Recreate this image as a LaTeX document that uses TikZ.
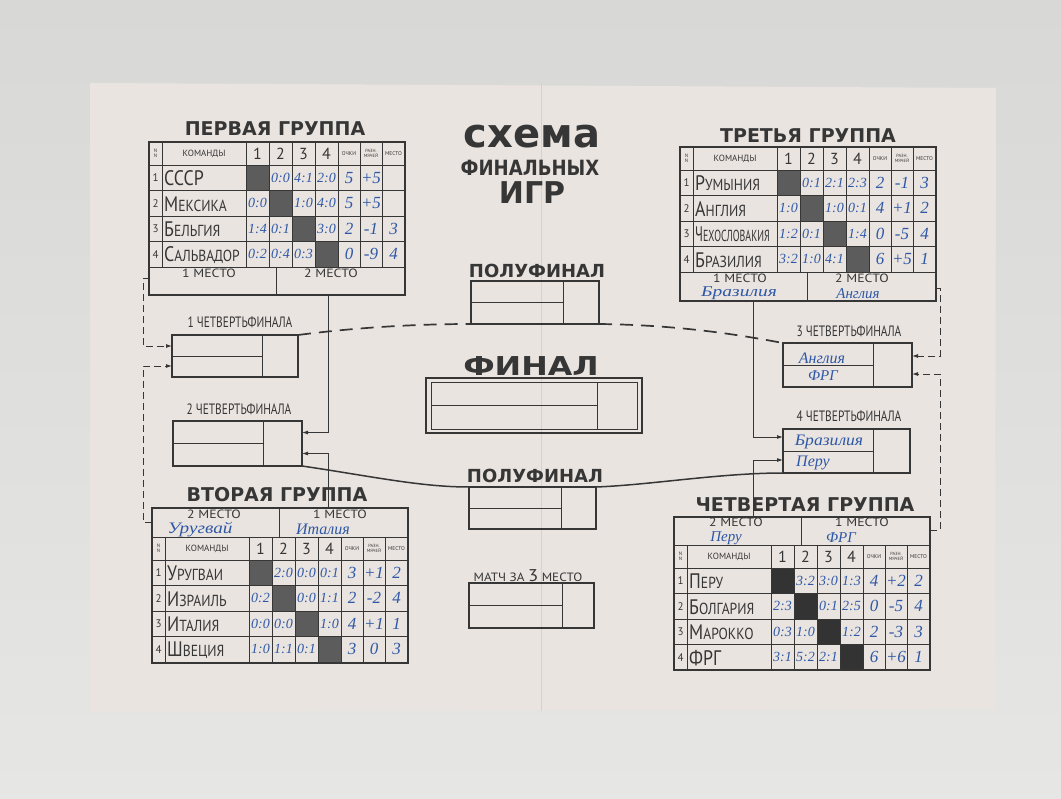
\documentclass[tikz,border=0pt]{standalone}
\usepackage{fontspec}
\setmainfont{PT Sans}
\newfontfamily\hdf{DejaVu Sans}
\newfontfamily\hwf{Liberation Serif}
\usetikzlibrary{arrows.meta,calc}
\definecolor{paper}{HTML}{EAE4E0}
\definecolor{bgtop}{HTML}{D8D9D7}
\definecolor{bgbot}{HTML}{E6E6E4}
\definecolor{ink}{HTML}{363636}
\definecolor{pen}{HTML}{2E58A6}
\definecolor{shA}{HTML}{5C5C5C}
\definecolor{shB}{HTML}{333333}
\newcommand\fs[1]{\fontsize{#1}{#1}\selectfont}
\newcommand\hwfs[1]{\hwf\itshape\fs{#1}}
\newcommand\tn[3][0.85]{\scalebox{#1}[1]{{\fs{21}#2}{\fs{16}#3}}}
\newcommand\tnA[2][0.85]{\scalebox{#1}[1]{\fs{21}#2}}
\newcommand\mesto[1]{\scalebox{1.15}[1]{\fs{12}#1 МЕСТО}}
\tikzset{
  hdr/.style={text=ink, inner sep=0pt},
  hw/.style={text=pen, inner sep=0pt},
  gridl/.style={draw=ink, line width=0.9pt},
  tbl/.style={draw=ink, line width=1.8pt, inner sep=0pt, outer sep=0pt, anchor=north west},
  mbox/.style={draw=ink, line width=1.7pt, inner sep=0pt, outer sep=0pt, anchor=north west},
  divl/.style={draw=ink, line width=0.9pt},
  conn/.style={draw=ink, line width=0.9pt, -{Latex[length=6pt,width=4pt]}},
  dconn/.style={conn, dash pattern=on 7pt off 4pt},
  bigdash/.style={draw=ink, line width=1.7pt, dash pattern=on 13pt off 8pt},
  bigline/.style={draw=ink, line width=1.5pt},
}
% grid of a group table, local coordinates (header top-left = origin)
\newcommand\tgrid[1]{%
  \fill[#1] (97,23) rectangle (120,48.5);
  \fill[#1] (120,48.5) rectangle (143,74);
  \fill[#1] (143,74) rectangle (166,99.5);
  \fill[#1] (166,99.5) rectangle (189,125);
  \foreach \yy in {0,23,48.5,74,99.5,125} \draw[gridl] (0,\yy) -- (256,\yy);
  \foreach \xx in {13,97,120,143,166,189,211,233} \draw[gridl] (\xx,0) -- (\xx,125);
  \node[hdr,font=\fs{5},align=center] (hn) at (6.5,11.5) {N\\N};
  \node[hdr,font=\fs{9}] (hk) at (55,11.5) {КОМАНДЫ};
  \foreach \cc/\xx in {1/108.5,2/131.5,3/154.5,4/177.5}
    \node[hdr,font=\fs{16}] (h\cc) at (\xx,11.5) {\cc};
  \node[hdr,font=\fs{5.5}] (ho) at (200,11.5) {ОЧКИ};
  \node[hdr,font=\fs{4.5},align=center] (hr) at (222,11.5) {РАЗН.\\МЯЧЕЙ};
  \node[hdr,font=\fs{5.5}] (hm) at (244.5,11.5) {МЕСТО};
}
\newcommand\trow[9]{%
  \pgfmathsetmacro\ry{23+25.5*(#1-0.5)}
  \node[hdr,font=\fs{11}] (r#1n) at (6.5,\ry) {#1};
  \node[hdr,anchor=west] (r#1t) at (15,\ry+0.5) {#2};
  \node[hw,font=\hwfs{14}] (r#1a) at (108.5,\ry) {#3};
  \node[hw,font=\hwfs{14}] (r#1b) at (131.5,\ry) {#4};
  \node[hw,font=\hwfs{14}] (r#1c) at (154.5,\ry) {#5};
  \node[hw,font=\hwfs{14}] (r#1d) at (177.5,\ry) {#6};
  \node[hw,font=\hwfs{17}] (r#1p) at (200,\ry) {#7};
  \node[hw,font=\hwfs{17}] (r#1r) at (222,\ry) {#8};
  \node[hw,font=\hwfs{17}] (r#1m) at (244.5,\ry) {#9};
}
\newcommand\placebot{%
  \draw[gridl] (127,125) -- (127,153);
  \node[hdr] (p1) at (60,131.5) {\mesto{1}};
  \node[hdr] (p2) at (182,131.5) {\mesto{2}};
}
\newcommand\placetop{%
  \draw[gridl] (127,-29) -- (127,0);
  \node[hdr] (p2) at (62,-23) {\mesto{2}};
  \node[hdr] (p1) at (188,-23) {\mesto{1}};
}
\newcommand\mlines[2]{%
  \draw[divl] (#1.west) -- ($(#1.west)!#2!(#1.east)$);
  \draw[divl] ($(#1.north west)!#2!(#1.north east)$) -- ($(#1.south west)!#2!(#1.south east)$);
}
\begin{document}
\begin{tikzpicture}[x=1pt,y=-1pt]
\useasboundingbox (0,0) rectangle (1061,799);
\shade[top color=bgtop, bottom color=bgbot] (0,0) rectangle (1061,799);
\fill[paper] (90,83) -- (996,88) -- (995,709) -- (90,712) -- cycle;
\draw[black!25, line width=0.6pt, opacity=0.5] (541,84) -- (541,711);

% ---------- title ----------
\node[hdr,font=\hdf\bfseries\fs{40}] (t1) at (532,137) {схема};
\node[hdr,font=\hdf\bfseries\fs{21}] (t2) at (530,168) {\scalebox{0.86}[1]{ФИНАЛЬНЫХ}};
\node[hdr,font=\hdf\bfseries\fs{30}] (t3) at (532,193) {ИГР};

% ---------- group titles ----------
\node[hdr,font=\hdf\bfseries\fs{19}] (g1t) at (275,129) {ПЕРВАЯ\ ГРУППА};
\node[hdr,font=\hdf\bfseries\fs{19}] (g3t) at (808,136) {ТРЕТЬЯ\ ГРУППА};
\node[hdr,font=\hdf\bfseries\fs{19}] (g2t) at (277,495) {ВТОРАЯ\ ГРУППА};
\node[hdr,font=\hdf\bfseries\fs{19}] (g4t) at (805,505) {ЧЕТВЕРТАЯ\ ГРУППА};

% ---------- group 1 ----------
\begin{scope}[shift={(149,142)}, name prefix=g1-]
\tgrid{shA}
\trow{1}{\tnA{СССР}}{}{0:0}{4:1}{2:0}{5}{+5}{}
\trow{2}{\tn{М}{ЕКСИКА}}{0:0}{}{1:0}{4:0}{5}{+5}{}
\trow{3}{\tn{Б}{ЕЛЬГИЯ}}{1:4}{0:1}{}{3:0}{2}{-1}{3}
\trow{4}{\tn{С}{АЛЬВАДОР}}{0:2}{0:4}{0:3}{}{0}{-9}{4}
\placebot
\end{scope}
\node[tbl, minimum width=256pt, minimum height=153pt] (g1) at (149,142) {};

% ---------- group 3 ----------
\begin{scope}[shift={(680,147)}, name prefix=g3-]
\tgrid{shA}
\trow{1}{\tn{Р}{УМЫНИЯ}}{}{0:1}{2:1}{2:3}{2}{-1}{3}
\trow{2}{\tn{А}{НГЛИЯ}}{1:0}{}{1:0}{0:1}{4}{+1}{2}
\trow{3}{\tn[0.62]{Ч}{ЕХОСЛОВАКИЯ}}{1:2}{0:1}{}{1:4}{0}{-5}{4}
\trow{4}{\tn{Б}{РАЗИЛИЯ}}{3:2}{1:0}{4:1}{}{6}{+5}{1}
\placebot
\node[hw,font=\hwfs{15}] (w1) at (59,146.5) {\scalebox{1.3}[1]{Бразилия}};
\node[hw,font=\hwfs{15}] (w2) at (178,146.5) {Англия};
\end{scope}
\node[tbl, minimum width=256pt, minimum height=154pt] (g3) at (680,147) {};

% ---------- group 2 ----------
\begin{scope}[shift={(152,537)}, name prefix=g2-]
\tgrid{shA}
\trow{1}{\tn{У}{РУГВАИ}}{}{2:0}{0:0}{0:1}{3}{+1}{2}
\trow{2}{\tn{И}{ЗРАИЛЬ}}{0:2}{}{0:0}{1:1}{2}{-2}{4}
\trow{3}{\tn{И}{ТАЛИЯ}}{0:0}{0:0}{}{1:0}{4}{+1}{1}
\trow{4}{\tn{Ш}{ВЕЦИЯ}}{1:0}{1:1}{0:1}{}{3}{0}{3}
\placetop
\node[hw,font=\hwfs{16}] (w1) at (48,-7.5) {\scalebox{1.2}[1]{Уругвай}};
\node[hw,font=\hwfs{16}] (w2) at (171,-7.5) {Италия};
\end{scope}
\node[tbl, minimum width=256pt, minimum height=155pt] (g2) at (152,508) {};

% ---------- group 4 ----------
\begin{scope}[shift={(674,545)}, name prefix=g4-]
\tgrid{shB}
\trow{1}{\tn{П}{ЕРУ}}{}{3:2}{3:0}{1:3}{4}{+2}{2}
\trow{2}{\tn{Б}{ОЛГАРИЯ}}{2:3}{}{0:1}{2:5}{0}{-5}{4}
\trow{3}{\tn{М}{АРОККО}}{0:3}{1:0}{}{1:2}{2}{-3}{3}
\trow{4}{\tnA{ФРГ}}{3:1}{5:2}{2:1}{}{6}{+6}{1}
\placetop
\node[hw,font=\hwfs{15}] (w1) at (52,-7) {Перу};
\node[hw,font=\hwfs{15}] (w2) at (167,-7) {ФРГ};
\end{scope}
\node[tbl, minimum width=256pt, minimum height=153pt] (g4) at (674,517) {};

% ---------- match boxes ----------
\node[mbox, minimum width=126pt, minimum height=42pt] (qf1) at (172,335) {};
\node[mbox, minimum width=129pt, minimum height=45pt] (qf2) at (173,421) {};
\node[mbox, minimum width=129pt, minimum height=44pt] (qf3) at (783,343) {};
\node[mbox, minimum width=127pt, minimum height=44pt] (qf4) at (783,429) {};
\node[mbox, minimum width=128pt, minimum height=43pt] (sf1) at (471,281) {};
\node[mbox, minimum width=127pt, minimum height=42pt] (sf2) at (469,487) {};
\node[mbox, minimum width=216pt, minimum height=55pt] (fin) at (426,378) {};
\node[draw=ink, line width=0.9pt, inner sep=0pt, outer sep=0pt, anchor=north west,
      minimum width=206pt, minimum height=47pt] (finin) at (431,382) {};
\node[mbox, minimum width=125pt, minimum height=45pt] (m3) at (469,583) {};
\mlines{qf1}{0.714}
\mlines{qf2}{0.705}
\mlines{qf3}{0.70}
\mlines{qf4}{0.71}
\mlines{sf1}{0.72}
\mlines{sf2}{0.73}
\mlines{finin}{0.806}
\mlines{m3}{0.744}

% ---------- box labels ----------
\node[hdr,font=\fs{15}] (qf1l) at (240,322) {\scalebox{0.76}[1]{1 ЧЕТВЕРТЬФИНАЛА}};
\node[hdr,font=\fs{15}] (qf2l) at (239,409) {\scalebox{0.76}[1]{2 ЧЕТВЕРТЬФИНАЛА}};
\node[hdr,font=\fs{15}] (qf3l) at (849,331) {\scalebox{0.76}[1]{3 ЧЕТВЕРТЬФИНАЛА}};
\node[hdr,font=\fs{15}] (qf4l) at (849,416) {\scalebox{0.76}[1]{4 ЧЕТВЕРТЬФИНАЛА}};
\node[hdr,font=\hdf\bfseries\fs{18}] (sf1l) at (537,271) {ПОЛУФИНАЛ};
\node[hdr,font=\hdf\bfseries\fs{18}] (sf2l) at (535,476) {ПОЛУФИНАЛ};
\node[hdr,font=\hdf\bfseries\fs{26}] (finl) at (531,366) {\scalebox{1.22}[1]{ФИНАЛ}};
\node[hdr] (m3l) at (528,576) {\scalebox{1.1}[1]{{\fs{12}МАТЧ ЗА }{\fs{17}3}{\fs{12} МЕСТО}}};

% ---------- handwriting in quarterfinals ----------
\node[hw,font=\hwfs{16}] (qf3a) at (822,358) {Англия};
\node[hw,font=\hwfs{15}] (qf3b) at (823,376) {ФРГ};
\node[hw,font=\hwfs{16}] (qf4a) at (829,442) {\scalebox{1.1}[1]{Бразилия}};
\node[hw,font=\hwfs{16}] (qf4b) at (813,463) {Перу};

% ---------- connectors ----------
\draw[dconn] ([yshift=17pt]g1.south west) -- ++(-6,0) |- ([yshift=10pt]qf1.west);
\draw[dconn] ([yshift=-14pt]g2.north west) -- ++(-9,0) |- ([yshift=-10pt]qf1.west);
\draw[conn] ([xshift=179pt]g1.south west) |- ([yshift=11pt]qf2.east);
\draw[conn] ([xshift=176pt]g2.north west) |- ([yshift=-10pt]qf2.east);
\draw[conn] ([xshift=73pt]g3.south west) |- ([yshift=14pt]qf4.west);
\draw[conn] ([xshift=79pt]g4.north west) |- ([yshift=-9pt]qf4.west);
\draw[dconn] ([yshift=13pt]g3.south east) -- ++(4,0) |- ([yshift=9pt]qf3.east);
\draw[dconn] ([yshift=-13pt]g4.north east) -- ++(10,0) |- ([yshift=-9pt]qf3.east);

\draw[bigdash] (qf1.north east) .. controls (360,327) and (420,324) .. (sf1.south west);
\draw[bigdash] (sf1.south east) .. controls (680,325) and (740,335) .. (qf3.north west);
\draw[bigline] (qf2.south east) .. controls (370,476) and (420,487) .. (sf2.north west);
\draw[bigline] (sf2.north east) .. controls (650,485) and (720,473) .. (qf4.south west);
\end{tikzpicture}
\end{document}
